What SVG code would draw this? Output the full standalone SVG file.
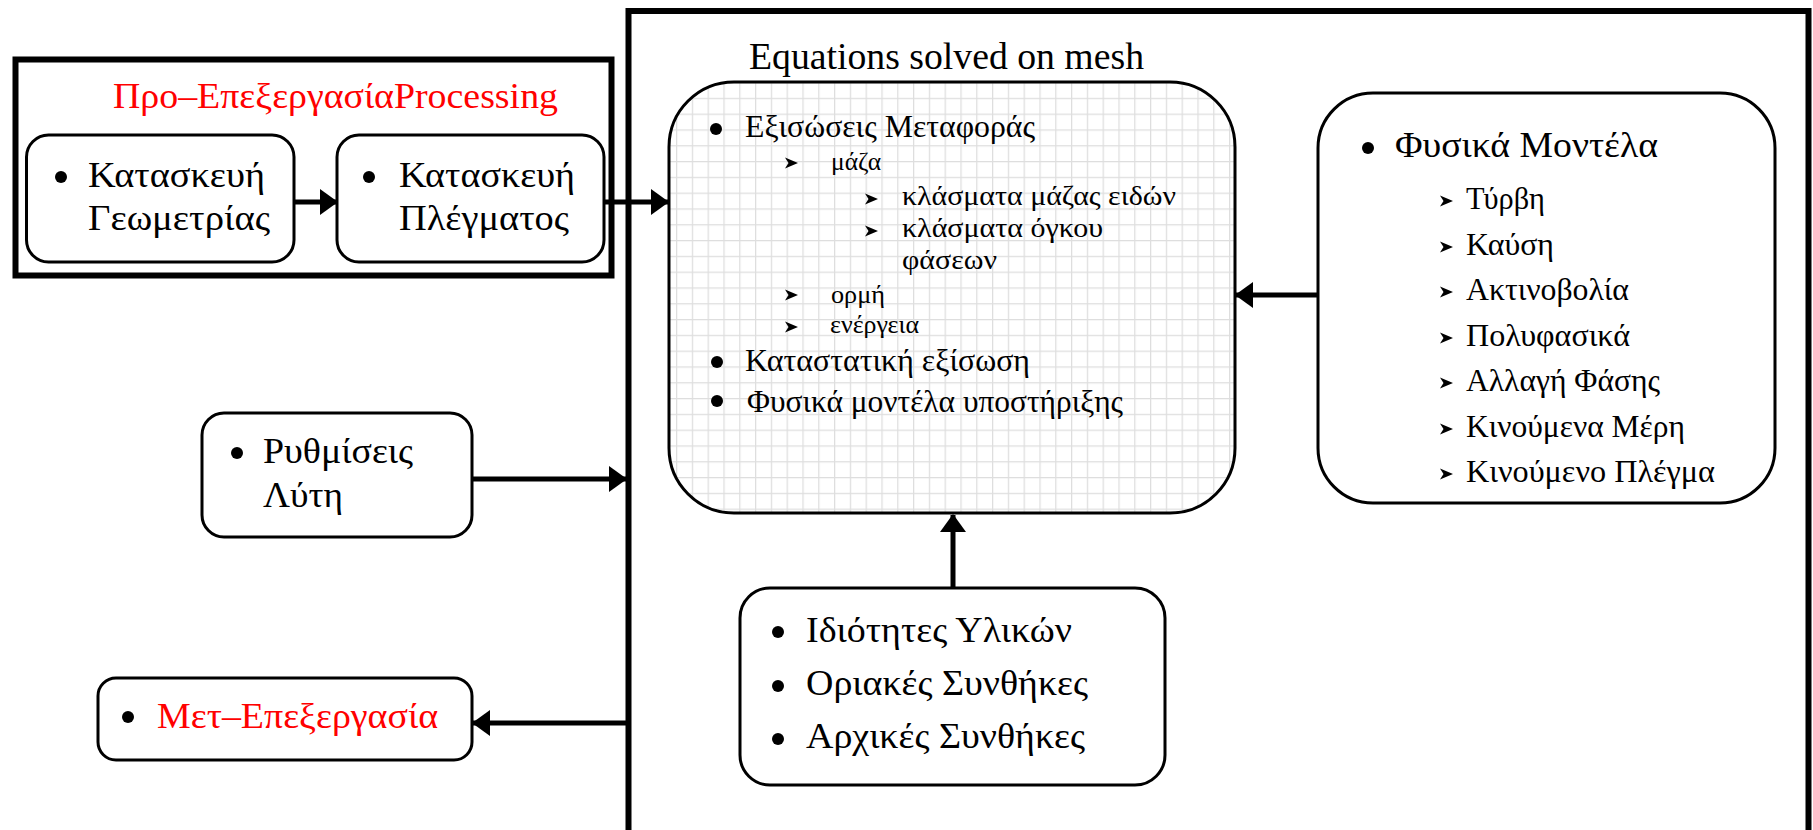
<svg xmlns="http://www.w3.org/2000/svg" xmlns:xlink="http://www.w3.org/1999/xlink" width="1813" height="830" viewBox="0 0 1813 830">
  <style>
    text { font-family: "Liberation Serif", "DejaVu Serif", "Times New Roman", serif; fill: #000; }
    .red { fill: #ff0000; }
    .node { fill: #fff; stroke: #000; stroke-width: 3; }
    .frame { fill: none; stroke: #000; stroke-width: 6; }
    .conn { fill: none; stroke: #000; stroke-width: 5; marker-end: url(#head); }
    .f36 { font-size: 36px; }
    .f37 { font-size: 37px; }
    .f32 { font-size: 32px; }
    .f27 { font-size: 27.5px; }
    .f26 { font-size: 26px; }
  </style>
  <defs>
    <pattern id="mesh" patternUnits="userSpaceOnUse" x="676" y="82" width="15.8" height="15.8">
      <rect width="15.8" height="15.8" fill="#fff"/>
      <path d="M0,0.6 H15.8 M0.6,0 V15.8" stroke="#dedede" stroke-width="1.3" fill="none"/>
    </pattern>
    <marker id="head" viewBox="0 0 18 26" refX="17" refY="13" markerWidth="18" markerHeight="26" markerUnits="userSpaceOnUse" orient="auto">
      <path d="M0,0 L18,13 L0,26 Z" fill="#000"/>
    </marker>
    <circle id="dot" r="6" fill="#000"/>
    <path id="chev" d="M0,-5.5 L13,0 L0,5.5 L3.5,0 Z" fill="#000"/>
  </defs>

  <rect width="1813" height="830" fill="#fff"/>

  <!-- main solver frame, open at the bottom -->
  <path class="frame" d="M628.5,840 V11 H1808.5 V840"/>

  <!-- pre-processing group -->
  <g id="pre-processing">
    <rect class="frame" x="15.5" y="59.5" width="596" height="216" stroke-width="5"/>
    <text class="red f36" x="113" y="108" textLength="445" lengthAdjust="spacingAndGlyphs">Προ–ΕπεξεργασίαProcessing</text>
  </g>

  <g id="geometry">
    <rect class="node" x="26.5" y="135" width="267.5" height="127" rx="22"/>
    <use xlink:href="#dot" x="61" y="177"/>
    <text class="f36" x="88" y="187" textLength="177" lengthAdjust="spacingAndGlyphs">Κατασκευή</text>
    <text class="f36" x="88" y="230" textLength="182" lengthAdjust="spacingAndGlyphs">Γεωμετρίας</text>
  </g>

  <g id="mesh-build">
    <rect class="node" x="337" y="135" width="267" height="127" rx="22"/>
    <use xlink:href="#dot" x="369" y="177"/>
    <text class="f36" x="399" y="187" textLength="176" lengthAdjust="spacingAndGlyphs">Κατασκευή</text>
    <text class="f36" x="399" y="230" textLength="170" lengthAdjust="spacingAndGlyphs">Πλέγματος</text>
  </g>

  <g id="equations">
    <text class="f37" x="749" y="69" textLength="395" lengthAdjust="spacingAndGlyphs">Equations solved on mesh</text>
    <rect x="669" y="82" width="566" height="431" rx="65" fill="url(#mesh)" stroke="#000" stroke-width="3"/>
    <use xlink:href="#dot" x="716" y="129"/>
    <text class="f32" x="745" y="137" textLength="290" lengthAdjust="spacingAndGlyphs">Εξισώσεις Μεταφοράς</text>
    <use xlink:href="#chev" x="785" y="163"/>
    <text class="f26" x="831" y="170" textLength="50" lengthAdjust="spacingAndGlyphs">μάζα</text>
    <use xlink:href="#chev" x="865" y="199"/>
    <text class="f27" x="902" y="205" textLength="274" lengthAdjust="spacingAndGlyphs">κλάσματα μάζας ειδών</text>
    <use xlink:href="#chev" x="865" y="231"/>
    <text class="f27" x="902" y="237" textLength="201" lengthAdjust="spacingAndGlyphs">κλάσματα όγκου</text>
    <text class="f27" x="902" y="269" textLength="95" lengthAdjust="spacingAndGlyphs">φάσεων</text>
    <use xlink:href="#chev" x="785" y="295"/>
    <text class="f26" x="831" y="303" textLength="54" lengthAdjust="spacingAndGlyphs">ορμή</text>
    <use xlink:href="#chev" x="785" y="327"/>
    <text class="f26" x="830" y="333" textLength="89" lengthAdjust="spacingAndGlyphs">ενέργεια</text>
    <use xlink:href="#dot" x="717" y="362"/>
    <text class="f32" x="745" y="371" textLength="285" lengthAdjust="spacingAndGlyphs">Καταστατική εξίσωση</text>
    <use xlink:href="#dot" x="717" y="401"/>
    <text class="f32" x="747" y="412" textLength="376" lengthAdjust="spacingAndGlyphs">Φυσικά μοντέλα υποστήριξης</text>
  </g>

  <g id="physical-models">
    <rect class="node" x="1318" y="93" width="457" height="410" rx="55"/>
    <use xlink:href="#dot" x="1368" y="148"/>
    <text class="f36" x="1395" y="157" textLength="263" lengthAdjust="spacingAndGlyphs">Φυσικά Μοντέλα</text>
    <use xlink:href="#chev" x="1440" y="201"/>
    <text class="f32" x="1466" y="209" textLength="79" lengthAdjust="spacingAndGlyphs">Τύρβη</text>
    <use xlink:href="#chev" x="1440" y="247"/>
    <text class="f32" x="1466" y="255" textLength="88" lengthAdjust="spacingAndGlyphs">Καύση</text>
    <use xlink:href="#chev" x="1440" y="292"/>
    <text class="f32" x="1466" y="300" textLength="163" lengthAdjust="spacingAndGlyphs">Ακτινοβολία</text>
    <use xlink:href="#chev" x="1440" y="338"/>
    <text class="f32" x="1466" y="346" textLength="164" lengthAdjust="spacingAndGlyphs">Πολυφασικά</text>
    <use xlink:href="#chev" x="1440" y="383"/>
    <text class="f32" x="1466" y="391" textLength="194" lengthAdjust="spacingAndGlyphs">Αλλαγή Φάσης</text>
    <use xlink:href="#chev" x="1440" y="429"/>
    <text class="f32" x="1466" y="437" textLength="219" lengthAdjust="spacingAndGlyphs">Κινούμενα Μέρη</text>
    <use xlink:href="#chev" x="1440" y="474"/>
    <text class="f32" x="1466" y="482" textLength="249" lengthAdjust="spacingAndGlyphs">Κινούμενο Πλέγμα</text>
  </g>

  <g id="solver-settings">
    <rect class="node" x="202" y="413" width="270" height="124" rx="22"/>
    <use xlink:href="#dot" x="237" y="453"/>
    <text class="f36" x="263" y="463" textLength="150" lengthAdjust="spacingAndGlyphs">Ρυθμίσεις</text>
    <text class="f36" x="263" y="507" textLength="80" lengthAdjust="spacingAndGlyphs">Λύτη</text>
  </g>

  <g id="post-processing">
    <rect class="node" x="98" y="678" width="374" height="82" rx="18"/>
    <use xlink:href="#dot" x="128" y="717"/>
    <text class="red f36" x="157" y="728" textLength="281" lengthAdjust="spacingAndGlyphs">Μετ–Επεξεργασία</text>
  </g>

  <g id="conditions">
    <rect class="node" x="740" y="588" width="425" height="197" rx="30"/>
    <use xlink:href="#dot" x="778" y="632"/>
    <text class="f36" x="806" y="642" textLength="266" lengthAdjust="spacingAndGlyphs">Ιδιότητες Υλικών</text>
    <use xlink:href="#dot" x="778" y="686"/>
    <text class="f36" x="806" y="695" textLength="282" lengthAdjust="spacingAndGlyphs">Οριακές Συνθήκες</text>
    <use xlink:href="#dot" x="778" y="739"/>
    <text class="f36" x="806" y="748" textLength="279" lengthAdjust="spacingAndGlyphs">Αρχικές Συνθήκες</text>
  </g>

  <g id="connectors">
    <line class="conn" x1="294" y1="202" x2="337" y2="202"/>
    <line class="conn" x1="604" y1="202" x2="668" y2="202"/>
    <line class="conn" x1="1318" y1="295" x2="1236" y2="295"/>
    <line class="conn" x1="472" y1="479" x2="626" y2="479"/>
    <line class="conn" x1="628" y1="723" x2="473" y2="723"/>
    <line class="conn" x1="953" y1="588" x2="953" y2="515"/>
  </g>
</svg>
